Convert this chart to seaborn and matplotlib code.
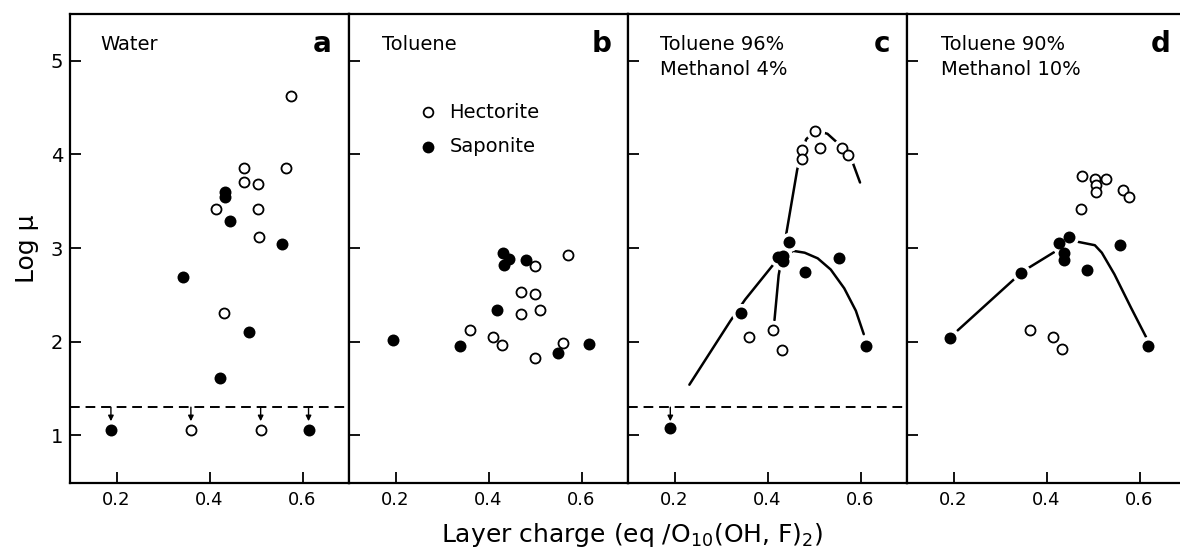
import matplotlib
matplotlib.use("Agg")
import matplotlib.pyplot as plt
import seaborn as sns

# ---------------- data ----------------
# Panel a: Water
hect_a_x = [0.576, 0.475, 0.565, 0.474, 0.505, 0.413, 0.504, 0.506, 0.432, 0.360, 0.510]
hect_a_y = [4.62, 3.86, 3.85, 3.71, 3.68, 3.42, 3.42, 3.12, 2.31, 1.06, 1.06]
sap_a_x = [0.434, 0.434, 0.445, 0.555, 0.342, 0.486, 0.423, 0.188, 0.613]
sap_a_y = [3.60, 3.54, 3.29, 3.04, 2.69, 2.10, 1.61, 1.06, 1.06]
limit_a_x = [0.188, 0.360, 0.510, 0.613]   # values below detection limit

# Panel b: Toluene
hect_b_x = [0.361, 0.409, 0.430, 0.469, 0.469, 0.500, 0.510, 0.500, 0.571, 0.501, 0.560]
hect_b_y = [2.12, 2.05, 1.96, 2.30, 2.53, 2.51, 2.34, 2.81, 2.93, 1.82, 1.99]
sap_b_x = [0.194, 0.339, 0.419, 0.431, 0.444, 0.434, 0.480, 0.550, 0.616]
sap_b_y = [2.02, 1.95, 2.34, 2.95, 2.88, 2.82, 2.87, 1.88, 1.98]

# Panel c: Toluene 96% / Methanol 4%
hect_c_x = [0.502, 0.474, 0.474, 0.513, 0.560, 0.573, 0.361, 0.412, 0.432]
hect_c_y = [4.25, 4.05, 3.95, 4.07, 4.07, 3.99, 2.05, 2.12, 1.91]
sap_c_x = [0.446, 0.422, 0.434, 0.434, 0.480, 0.553, 0.342, 0.611, 0.191]
sap_c_y = [3.06, 2.90, 2.92, 2.86, 2.74, 2.89, 2.31, 1.95, 1.08]
limit_c_x = [0.191]
curve_c_hect_x = [0.415, 0.424, 0.441, 0.464, 0.483, 0.502, 0.529, 0.558, 0.582, 0.599]
curve_c_hect_y = [2.23, 2.71, 3.17, 3.84, 4.16, 4.26, 4.22, 4.09, 3.93, 3.70]
curve_c_sap_x = [0.232, 0.320, 0.352, 0.412, 0.455, 0.480, 0.508, 0.536, 0.565, 0.590, 0.607]
curve_c_sap_y = [1.54, 2.22, 2.45, 2.82, 2.97, 2.95, 2.89, 2.77, 2.57, 2.33, 2.08]

# Panel d: Toluene 90% / Methanol 10%
hect_d_x = [0.476, 0.504, 0.527, 0.507, 0.507, 0.564, 0.577, 0.475, 0.364, 0.414, 0.434]
hect_d_y = [3.77, 3.74, 3.74, 3.67, 3.60, 3.62, 3.54, 3.42, 2.12, 2.05, 1.92]
sap_d_x = [0.448, 0.427, 0.437, 0.437, 0.559, 0.488, 0.346, 0.193, 0.619]
sap_d_y = [3.12, 3.05, 2.95, 2.87, 3.03, 2.76, 2.73, 2.04, 1.95]
curve_d_x = [0.209, 0.331, 0.362, 0.421, 0.464, 0.504, 0.519, 0.546, 0.582, 0.614]
curve_d_y = [2.12, 2.67, 2.79, 2.97, 3.07, 3.03, 2.95, 2.72, 2.36, 2.05]

detect_limit = 1.30

solvent_labels = [["Water"], ["Toluene"], ["Toluene 96%", "Methanol 4%"],
                  ["Toluene 90%", "Methanol 10%"]]
panel_letters = ["a", "b", "c", "d"]
x_ticks = [0.2, 0.4, 0.6]
x_tick_labels = ["0.2", "0.4", "0.6"]
y_ticks = [1, 2, 3, 4, 5]
y_tick_labels = ["1", "2", "3", "4", "5"]
legend_labels = ["Hectorite", "Saponite"]

# ---------------- style ----------------
sns.set_theme(style="ticks")
plt.rcParams["font.family"] = ["DejaVu Sans"]
plt.rcParams["mathtext.default"] = "regular"
plt.rcParams["text.color"] = "black"
plt.rcParams["axes.labelcolor"] = "black"
plt.rcParams["xtick.color"] = "black"
plt.rcParams["ytick.color"] = "black"

W, H = 1180, 552
fig = plt.figure(figsize=(W / 100, H / 100), dpi=100)
fig.patch.set_facecolor("white")

panel_left_px = [70, 349, 628, 907]
panel_w_px = 279
ax_bottom = 1 - 483 / H
ax_height = 469 / H

panels = [
    dict(hx=hect_a_x, hy=hect_a_y, sx=sap_a_x, sy=sap_a_y, limit=limit_a_x, curves=[]),
    dict(hx=hect_b_x, hy=hect_b_y, sx=sap_b_x, sy=sap_b_y, limit=None, curves=[]),
    dict(hx=hect_c_x, hy=hect_c_y, sx=sap_c_x, sy=sap_c_y, limit=limit_c_x,
         curves=[(curve_c_hect_x, curve_c_hect_y), (curve_c_sap_x, curve_c_sap_y)]),
    dict(hx=hect_d_x, hy=hect_d_y, sx=sap_d_x, sy=sap_d_y, limit=None,
         curves=[(curve_d_x, curve_d_y)]),
]
text_x = [0.107, 0.118, 0.115, 0.122]
letter_x = [0.939, 0.94, 0.939, 0.946]

for i, p in enumerate(panels):
    ax = fig.add_axes([panel_left_px[i] / W, ax_bottom, panel_w_px / W, ax_height])
    ax.set_facecolor("white")

    # fitted curves
    for cx, cy in p["curves"]:
        sns.lineplot(x=cx, y=cy, ax=ax, sort=False, estimator=None,
                     color="black", lw=1.8, zorder=2)
    # white halos so the curves break around the markers
    if p["curves"]:
        sns.scatterplot(x=p["hx"] + p["sx"], y=p["hy"] + p["sy"], ax=ax,
                        s=190, color="white", linewidth=0, zorder=3)

    # detection limit
    if p["limit"] is not None:
        ax.axhline(detect_limit, color="black", lw=1.4, ls=(0, (5, 3)), zorder=2)
        for lx in p["limit"]:
            ax.annotate("", xy=(lx, 1.15), xytext=(lx, detect_limit),
                        arrowprops=dict(arrowstyle="-|>", color="black", lw=1.0,
                                        mutation_scale=8, shrinkA=0, shrinkB=0),
                        zorder=3)

    sns.scatterplot(x=p["hx"], y=p["hy"], ax=ax, s=52, color="white",
                    edgecolor="black", linewidth=1.3, zorder=4)
    sns.scatterplot(x=p["sx"], y=p["sy"], ax=ax, s=74, color="black",
                    linewidth=0, zorder=5)

    ax.set_xlim(0.1, 0.7)
    ax.set_ylim(0.49, 5.5)
    ax.set_xticks(x_ticks)
    ax.set_xticklabels(x_tick_labels)
    ax.set_yticks(y_ticks)
    ax.set_yticklabels(y_tick_labels)
    ax.tick_params(direction="in", length=8, width=1.3, colors="black")
    ax.tick_params(axis="x", labelsize=13, pad=6)
    ax.tick_params(axis="y", labelsize=14, pad=5, labelleft=(i == 0))
    ax.set_xlabel("")
    ax.set_ylabel("")
    for sp in ax.spines.values():
        sp.set_visible(True)
        sp.set_linewidth(1.6)
        sp.set_color("black")

    lines = solvent_labels[i]
    for k, t in enumerate(lines):
        ax.text(text_x[i], 0.936 - k * 0.055, t, transform=ax.transAxes,
                fontsize=14, ha="left", va="center", color="black")
    ax.text(letter_x[i], 0.936, panel_letters[i], transform=ax.transAxes,
            fontsize=20, fontweight="bold", ha="right", va="center", color="black")

    if i == 1:
        ax.plot([0.283], [0.790], transform=ax.transAxes, marker="o", ms=7,
                mfc="white", mec="black", mew=1.3, ls="none")
        ax.plot([0.283], [0.717], transform=ax.transAxes, marker="o", ms=8.5,
                mfc="black", mec="black", mew=0, ls="none")
        ax.text(0.36, 0.790, legend_labels[0], transform=ax.transAxes,
                fontsize=14, ha="left", va="center", color="black")
        ax.text(0.36, 0.717, legend_labels[1], transform=ax.transAxes,
                fontsize=14, ha="left", va="center", color="black")

fig.text(0.5356, 0.031, r"Layer charge (eq /O$_{10}$(OH, F)$_{2}$)",
         fontsize=18, ha="center", va="center", color="black")
fig.text(0.023, 0.55, "Log μ", fontsize=18, rotation=90, ha="center", va="center",
         color="black")

fig.savefig("out.png", dpi=100, facecolor="white")
